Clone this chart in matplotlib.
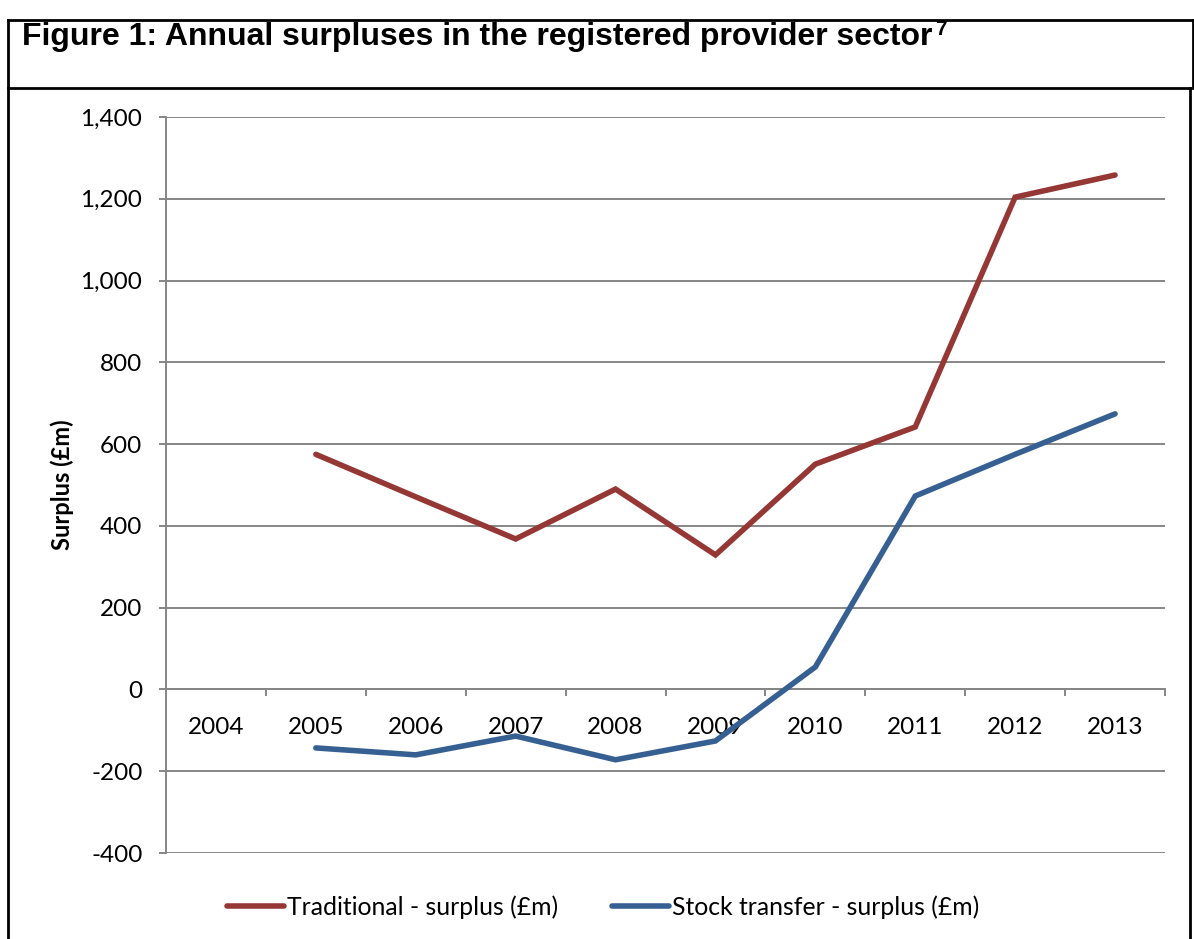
import matplotlib.pyplot as plt
from matplotlib.lines import Line2D
from matplotlib.ticker import FuncFormatter

years = ["2004", "2005", "2006", "2007", "2008", "2009", "2010", "2011", "2012", "2013"]
traditional = [None, 575, 471, 368, 490, 329, 551, 642, 1204, 1258]
stock_transfer = [None, -143, -160, -114, -172, -126, 55, 473, 575, 674]

W, H = 1194, 939
fig = plt.figure(figsize=(W / 100, H / 100), dpi=100)

body_font = "Lato"

# frame boxes round title and chart
def px_line(x0, y0, x1, y1, lw=2.0):
    fig.add_artist(Line2D([x0 / W, x1 / W], [1 - y0 / H, 1 - y1 / H],
                          transform=fig.transFigure, color="black", lw=lw))

px_line(8, 20, 1194, 20)
px_line(8, 20, 8, 939)
px_line(1190, 88, 1190, 939)
px_line(1193, 20, 1193, 88)
px_line(8, 88, 1190, 88)

ax = fig.add_axes([166 / W, 1 - 853 / H, (1165 - 166) / W, (853 - 117) / H])

title = fig.text(22 / W, 1 - 37 / H, "Figure 1: Annual surpluses in the registered provider sector",
                 family="Liberation Sans", weight="bold", fontsize=23, va="center", ha="left")
ax.annotate("7", xy=(1, 1.08), xycoords=title, xytext=(2, 0), textcoords="offset points",
            family="Liberation Sans", weight="bold", fontsize=15, va="top", ha="left",
            annotation_clip=False)

x = list(range(len(years)))
def series(vals):
    xs = [i for i, v in zip(x, vals) if v is not None]
    ys = [v for v in vals if v is not None]
    return xs, ys

tx, ty = series(traditional)
sx, sy = series(stock_transfer)
ax.plot(tx, ty, color="#953735", lw=4.0, solid_capstyle="round", solid_joinstyle="miter",
        label="Traditional - surplus (£m)", zorder=3)
ax.plot(sx, sy, color="#376092", lw=4.0, solid_capstyle="round", solid_joinstyle="miter",
        label="Stock transfer - surplus (£m)", zorder=3)

ax.set_xlim(-0.5, len(years) - 0.5)
ax.set_ylim(-400, 1400)
ax.set_yticks(range(-400, 1401, 200))
ax.yaxis.set_major_formatter(FuncFormatter(lambda v, p: f"{int(v):,}"))
ax.grid(axis="y", color="#868686", lw=1.4)
ax.set_axisbelow(True)

for s in ["top", "right"]:
    ax.spines[s].set_visible(False)
ax.spines["left"].set_color("#868686")
ax.spines["left"].set_linewidth(1.4)
ax.spines["bottom"].set_position(("data", 0))
ax.spines["bottom"].set_color("#868686")
ax.spines["bottom"].set_linewidth(1.4)

ax.set_xticks(x)
ax.set_xticklabels(years)
ax.set_xticks([i + 0.5 for i in x[:-1]] + [len(years) - 0.5], minor=True)
ax.tick_params(axis="x", which="major", length=0, pad=20, labelsize=17.5)
ax.tick_params(axis="x", which="minor", length=5, width=1.4, color="#868686")
ax.tick_params(axis="y", length=5, width=1.4, color="#868686", labelsize=17.5, pad=12)
for lbl in ax.get_xticklabels() + ax.get_yticklabels():
    lbl.set_family(body_font)

ax.set_ylabel("Surplus (£m)", family=body_font, weight="bold", fontsize=17, labelpad=5)

leg = fig.legend(loc="center", bbox_to_anchor=(0.5 + 6 / W, 1 - 907 / H), ncol=2, frameon=False,
                 prop={"family": body_font, "size": 17.8}, handlelength=2.3,
                 handletextpad=0.12, columnspacing=2.2)

plt.savefig("out.png", dpi=100)
